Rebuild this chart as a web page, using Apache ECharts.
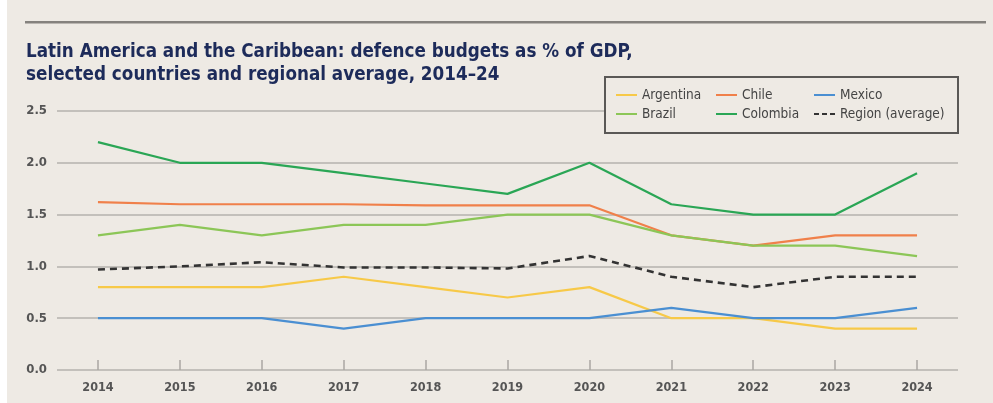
<!DOCTYPE html>
<html><head><meta charset="utf-8">
<script src="https://cdn.jsdelivr.net/npm/echarts@6/dist/echarts.min.js"></script>
<style>html,body{margin:0;padding:0;background:#fff;}#c{width:993px;height:403px;}</style>
</head><body><div id="c"></div>
<script>
const years = ['2014','2015','2016','2017','2018','2019','2020','2021','2022','2023','2024'];
const yTicks = [0, 0.5, 1.0, 1.5, 2.0, 2.5];
const argentina = [0.8,0.8,0.8,0.9,0.8,0.7,0.8,0.5,0.5,0.4,0.4];
const chile     = [1.62,1.60,1.60,1.60,1.59,1.59,1.59,1.3,1.2,1.3,1.3];
const mexico    = [0.5,0.5,0.5,0.4,0.5,0.5,0.5,0.6,0.5,0.5,0.6];
const brazil    = [1.3,1.4,1.3,1.4,1.4,1.5,1.5,1.3,1.2,1.2,1.1];
const colombia  = [2.2,2.0,2.0,1.9,1.8,1.7,2.0,1.6,1.5,1.5,1.9];
const region    = [0.97,1.0,1.04,0.99,0.99,0.98,1.1,0.9,0.8,0.9,0.9];

const FONT = '"Liberation Sans Narrow","DejaVu Sans Condensed",sans-serif';
const colors = {Argentina:'#f7c948', Chile:'#f0804a', Mexico:'#4a8fd2', Brazil:'#8cc657', Colombia:'#2aa655', 'Region (average)':'#333333'};

function line(name, data, dashed) {
  return {
    name, type:'line', data, symbol:'none', smooth:false,
    lineStyle:{color:colors[name], width: dashed?2.6:2.2, type: dashed?[7,5]:'solid'},
    itemStyle:{color:colors[name]}, z: dashed?3:2
  };
}
const legendCommon = {
  orient:'vertical', itemWidth:21, itemHeight:2, itemGap:5, z:6,
  textStyle:{fontFamily:FONT, fontSize:13.5, color:'#444', fontWeight:'normal'},
  icon:'path://M0,0 L21,0 L21,2 L0,2 Z'
};
const chart = echarts.init(document.getElementById('c'));
chart.setOption({
  backgroundColor:'#eeeae4',
  animation:false,
  textStyle:{fontFamily:FONT},
  title:{
    text:'Latin America and the Caribbean: defence budgets as % of GDP,\nselected countries and regional average, 2014–24',
    left:21, top:36,
    textStyle:{fontFamily:FONT, fontSize:18.7, fontWeight:'bold', color:'#1d2b5a', lineHeight:23}
  },
  graphic:[
    {type:'rect', shape:{x:0,y:0,width:7,height:403}, style:{fill:'#ffffff'}, z:0},
    {type:'rect', shape:{x:25,y:21,width:961,height:2.5}, style:{fill:'#85827e'}, z:5},
    {type:'rect', shape:{x:605,y:77,width:353,height:56}, style:{fill:'#eeeae4', stroke:'#5a5856', lineWidth:2}, z:4}
  ],
  legend:[
    Object.assign({left:611, top:83, data:['Argentina','Brazil']}, legendCommon),
    Object.assign({left:711, top:83, data:['Chile','Colombia']}, legendCommon),
    Object.assign({left:809, top:83, data:['Mexico', {name:'Region (average)', icon:'path://M0,0 L5,0 L5,2 L0,2 Z M8,0 L13,0 L13,2 L8,2 Z M16,0 L21,0 L21,2 L16,2 Z'}]}, legendCommon)
  ],
  grid:{left:57, right:35, top:111, bottom:33, containLabel:false},
  xAxis:{
    type:'category', data:years, boundaryGap:true,
    axisLine:{show:false},
    axisTick:{show:true, alignWithLabel:true, inside:true, length:10, lineStyle:{color:'#aaa7a3', width:1.5}},
    axisLabel:{fontFamily:FONT, fontSize:12.5, color:'#555', fontWeight:'bold', margin:11},
    splitLine:{show:false}
  },
  yAxis:{
    type:'value', min:0, max:2.5, interval:0.5,
    axisLine:{show:false}, axisTick:{show:false},
    axisLabel:{fontFamily:FONT, fontSize:13, color:'#555', fontWeight:'bold', margin:10,
      formatter:v=>v.toFixed(1)},
    splitLine:{lineStyle:{color:'#b5b2ae', width:1.6}}
  },
  series:[
    line('Argentina', argentina),
    line('Chile', chile),
    line('Mexico', mexico),
    line('Brazil', brazil),
    line('Colombia', colombia),
    line('Region (average)', region, true)
  ]
});
</script></body></html>
